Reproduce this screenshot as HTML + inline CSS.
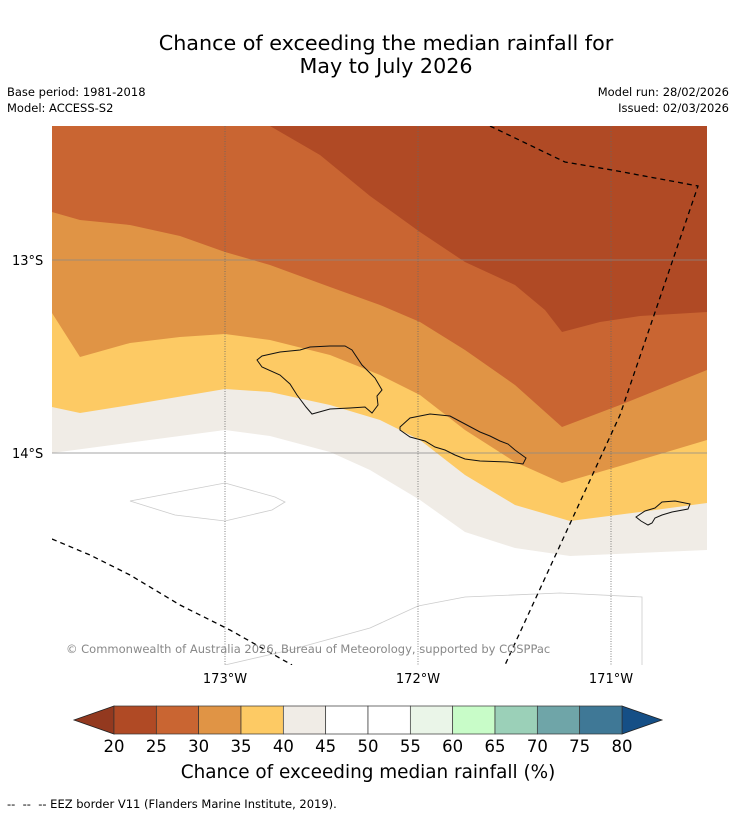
<!DOCTYPE html>
<html><head><meta charset="utf-8"><style>
body{margin:0;background:#fff;width:736px;height:816px;overflow:hidden;font-family:"DejaVu Sans","Liberation Sans",sans-serif}
svg{display:block}
</style></head><body>
<svg id="chart" width="736" height="816">
<text x="386" y="50" text-anchor="middle" font-size="20.7">Chance of exceeding the median rainfall for</text>
<text x="386" y="73" text-anchor="middle" font-size="20.7">May to July 2026</text>
<text x="7" y="96" font-size="11.5">Base period: 1981-2018</text>
<text x="7" y="112" font-size="11.5">Model: ACCESS-S2</text>
<text x="729" y="96" font-size="11.5" text-anchor="end">Model run: 28/02/2026</text>
<text x="729" y="112" font-size="11.5" text-anchor="end">Issued: 02/03/2026</text>
<defs><clipPath id="mapclip"><rect x="52" y="126" width="655" height="539"/></clipPath></defs>
<g clip-path="url(#mapclip)">
<rect x="52" y="126" width="655" height="539" fill="#fff"/>
<path fill="#f0ece6" d="M52,126 L707,126 L707,550 L570,556 L515,548 L465,532 L420,500 L370,470 L330,452 L270,436 L225,430 L52,453Z"/>
<path fill="#fdca64" d="M52,126 L707,126 L707,503 L640,512 L570,521 L515,505 L465,475 L420,440 L380,420 L330,405 L270,392 L225,389 L130,405 L80,413 L52,407Z"/>
<path fill="#e09445" d="M52,126 L707,126 L707,440 L620,466 L562,483 L515,462 L465,430 L420,395 L380,375 L330,355 L270,340 L225,334 L180,337 L130,343 L80,357 L52,313Z"/>
<path fill="#c96532" d="M52,126 L707,126 L707,370 L620,405 L562,427 L515,385 L465,350 L420,322 L380,305 L330,287 L270,265 L225,252 L180,236 L130,225 L80,220 L52,212Z"/>
<path fill="#b04a25" d="M270,126 L707,126 L707,312 L640,316 L600,322 L562,332 L545,310 L515,285 L465,262 L420,232 L370,196 L320,155Z"/>
<path fill="none" stroke="#ccc" stroke-width="0.8" d="M130,501 L225,483 L275,497 L285,502 L272,510 L225,521 L175,515Z M225,665 L290,650 L370,628 L418,606 L465,597 L560,593 L642,597 L642,665"/>
<g>
<line x1="225" y1="126" x2="225" y2="665" stroke="#666" stroke-width="0.8" stroke-dasharray="1,1.5"/>
<line x1="418" y1="126" x2="418" y2="665" stroke="#666" stroke-width="0.8" stroke-dasharray="1,1.5"/>
<line x1="611" y1="126" x2="611" y2="665" stroke="#666" stroke-width="0.8" stroke-dasharray="1,1.5"/>
<line x1="52" y1="260" x2="707" y2="260" stroke="#888" stroke-width="0.8"/>
<line x1="52" y1="453" x2="707" y2="453" stroke="#888" stroke-width="0.8"/>
</g>
<g fill="none" stroke="#111" stroke-width="1">
<path d="M257,360 L262,356 L280,352 L300,350 L310,347 L330,346 L345,346 L352,350 L362,365 L375,378 L382,390 L377,396 L378,405 L372,413 L365,407 L350,408 L330,409 L312,414 L306,407 L297,395 L290,384 L280,375 L262,367Z"/>
<path d="M400,427 L410,418 L430,414 L450,416 L465,424 L480,432 L490,436 L500,441 L508,444 L515,450 L526,458 L523,464 L508,462 L480,461 L465,459 L455,455 L445,450 L435,447 L425,441 L410,437 L400,430Z"/>
<path d="M636,517 L645,511 L655,508 L662,502 L675,501 L690,504 L688,509 L672,512 L662,515 L655,518 L652,523 L648,525 L641,521Z"/>
</g>
<g fill="none" stroke="#000" stroke-width="1.3" stroke-dasharray="5,4">
<path d="M490,126 L565,162 L612,170 L698,186 L620,415 L505,665"/>
<path d="M52,539 L90,555 L130,575 L180,605 L230,630 L292,665"/>
</g>
<text x="66" y="653" font-size="11.5" fill="#888">© Commonwealth of Australia 2026, Bureau of Meteorology, supported by COSPPac</text>
</g>
<g font-size="13">
<text x="12" y="265">13°S</text>
<text x="12" y="458">14°S</text>
<text x="225" y="683" text-anchor="middle">173°W</text>
<text x="418" y="683" text-anchor="middle">172°W</text>
<text x="611" y="683" text-anchor="middle">171°W</text>
</g>
<g id="colorbar"></g>
<text x="368" y="778" text-anchor="middle" font-size="18.4">Chance of exceeding median rainfall (%)</text>
<text x="7" y="808" font-size="11.5" xml:space="preserve">--  --  -- EEZ border V11 (Flanders Marine Institute, 2019).</text>
</svg>
<script>
const cbTicks = [20,25,30,35,40,45,50,55,60,65,70,75,80];
const cbColors = ["#b04a25","#c96532","#e09445","#fdca64","#f0ece6","#ffffff","#ffffff","#eaf5e8","#c8fcc8","#9bd0b8","#6fa5a8","#3f7896"];
const cbUnder = "#93391f", cbOver = "#154f86";
const NS="http://www.w3.org/2000/svg";
const g=document.getElementById('colorbar');
const x0=114,x1=622,y0=706,h=28;
const xs=v=>x0+(v-cbTicks[0])/(cbTicks[cbTicks.length-1]-cbTicks[0])*(x1-x0);
function mk(t,a){const e=document.createElementNS(NS,t);for(const k in a)e.setAttribute(k,a[k]);g.appendChild(e);return e;}
let p=mk('path',{d:`M${x0},${y0} L74,${y0+h/2} L${x0},${y0+h}Z`,fill:cbUnder,stroke:'#222','stroke-width':0.8});


p=mk('path',{d:`M${x1},${y0} L662,${y0+h/2} L${x1},${y0+h}Z`,fill:cbOver,stroke:'#222','stroke-width':0.8});


cbColors.forEach((c,i)=>{
  const a=xs(cbTicks[i]),b=xs(cbTicks[i+1]);
  const r=mk('rect',{x:a,y:y0,width:b-a,height:h,fill:c,stroke:'#333','stroke-width':0.7});
  
  
});
cbTicks.forEach(v=>{
  const t=mk('text',{x:xs(v),y:752,'text-anchor':'middle','font-size':16.5});
  t.textContent=v;
  
  
});
</script>
</body></html>
